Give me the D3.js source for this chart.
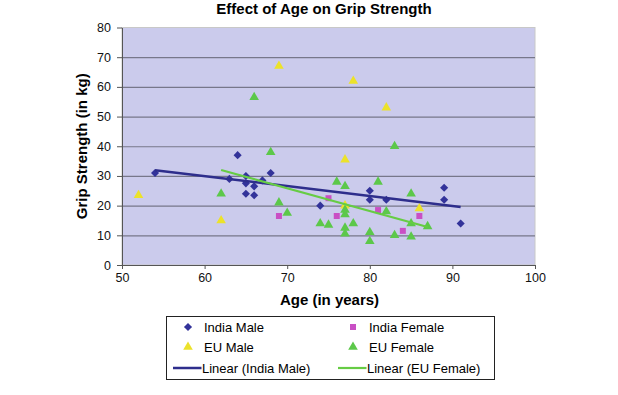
<!DOCTYPE html>
<html lang="en">
<head>
<meta charset="UTF-8">
<title>Effect of Age on Grip Strength</title>
<script src="https://d3js.org/d3.v7.min.js"></script>
<style>
  body { margin: 0; background: #fff; }
  svg { font-family: "Liberation Sans", Arial, Helvetica, sans-serif; }
</style>
</head>
<body>
<script>
// [age, grip strength in kg]
const indiaMale = [[54,31],[63,29],[64,37],[65,30],[65,27.5],[65,24],[66,26.5],[66,23.5],[67,28.5],[68,31],[74,20],[80,25],[80,22],[82,22],[89,26],[89,22],[91,14]];
const indiaFemale = [[69,16.5],[75,22.5],[76,16.5],[81,18.5],[84,11.5],[86,16.5]];
const euMale = [[52,23.5],[62,15],[69,67],[77,35.5],[77,20],[78,62],[82,53],[86,19]];
const euFemale = [[62,24],[66,56.5],[68,38],[69,21],[70,17.5],[74,14],[75,13.5],[76,28],[77,26.5],[77,18.5],[77,17],[77,12.5],[77,10.5],[78,14],[80,11],[80,8],[81,28],[82,18],[83,40],[83,10],[85,24],[85,14],[85,9.5],[87,13]];
const xTicks = [50,60,70,80,90,100];
const yTicks = [0,10,20,30,40,50,60,70,80];

const W = 618, H = 395;
const plotL = 122, plotR = 535, plotT = 27.5, plotB = 265;

const svg = d3.select("body").append("svg")
    .attr("width", W)
    .attr("height", H);

const x = d3.scaleLinear().domain([50, 100]).range([plotL, plotR]);
const y = d3.scaleLinear().domain([0, 80]).range([plotB, plotT]);

// plot background
svg.append("rect")
   .attr("x", plotL).attr("y", plotT)
   .attr("width", plotR - plotL).attr("height", plotB - plotT)
   .attr("fill", "#cbcbec")
   .attr("stroke", "#c8c8c8");

// gridlines
svg.append("g")
   .attr("transform", `translate(${plotL},0)`)
   .call(d3.axisLeft(y).tickValues(yTicks.slice(1, -1)).tickSize(-(plotR - plotL)).tickFormat(""))
   .call(g => g.select(".domain").remove())
   .call(g => g.selectAll("line").attr("stroke", "#77778a").attr("stroke-width", 1.2));

// y axis
svg.append("g")
   .attr("transform", `translate(${plotL},0)`)
   .call(d3.axisLeft(y).tickValues(yTicks).tickSize(5).tickPadding(6).tickSizeOuter(0))
   .call(g => g.selectAll("text").attr("font-size", 12.5).attr("fill", "#111"))
   .call(g => g.selectAll("line, .domain").attr("stroke", "#555"));

// x axis
svg.append("g")
   .attr("transform", `translate(0,${plotB})`)
   .call(d3.axisBottom(x).tickValues(xTicks).tickSize(4).tickPadding(4).tickSizeOuter(0))
   .call(g => g.selectAll("text").attr("font-size", 12.5).attr("fill", "#111"))
   .call(g => g.selectAll("line, .domain").attr("stroke", "#555"));

// titles
svg.append("text")
   .attr("x", 324).attr("y", 14)
   .attr("text-anchor", "middle")
   .attr("font-size", 15).attr("font-weight", "bold")
   .text("Effect of Age on Grip Strength");

svg.append("text")
   .attr("x", 329.5).attr("y", 305)
   .attr("text-anchor", "middle")
   .attr("font-size", 15).attr("font-weight", "bold")
   .text("Age (in years)");

svg.append("text")
   .attr("transform", `translate(87,${(plotT + plotB) / 2}) rotate(-90)`)
   .attr("text-anchor", "middle")
   .attr("font-size", 15).attr("font-weight", "bold")
   .text("Grip Strength (in kg)");

// marker shapes
const shapes = {
    diamond: d3.symbol().type(d3.symbolDiamond2).size(42),
    square: d3.symbol().type(d3.symbolSquare).size(36),
    triangle: d3.symbol().type(d3.symbolTriangle).size(40)
};

const series = [
    { name: "India Male", data: indiaMale, shape: "diamond", color: "#33339a" },
    { name: "India Female", data: indiaFemale, shape: "square", color: "#c94fc4" },
    { name: "EU Male", data: euMale, shape: "triangle", color: "#ece22a" },
    { name: "EU Female", data: euFemale, shape: "triangle", color: "#5cc84a" }
];

series.forEach(s => {
    svg.append("g").selectAll("path")
       .data(s.data)
       .enter().append("path")
       .attr("transform", d => `translate(${x(d[0])},${y(d[1])})`)
       .attr("d", shapes[s.shape]())
       .attr("fill", s.color);
});

// least squares trend lines
function fit(data) {
    const mx = d3.mean(data, d => d[0]), my = d3.mean(data, d => d[1]);
    const b = d3.sum(data, d => (d[0] - mx) * (d[1] - my)) / d3.sum(data, d => (d[0] - mx) ** 2);
    const a = my - b * mx;
    const [x0, x1] = d3.extent(data, d => d[0]);
    return [[x0, a + b * x0], [x1, a + b * x1]];
}

const trends = [
    { name: "Linear (India Male)", data: indiaMale, color: "#2e2e8c", width: 2.5 },
    { name: "Linear (EU Female)", data: euFemale, color: "#66cc44", width: 2.2 }
];

const line = d3.line().x(d => x(d[0])).y(d => y(d[1]));
trends.forEach(t => {
    svg.append("path")
       .attr("d", line(fit(t.data)))
       .attr("fill", "none")
       .attr("stroke", t.color)
       .attr("stroke-width", t.width);
});

// legend
const legend = svg.append("g");
legend.append("rect")
   .attr("x", 166.5).attr("y", 316.5)
   .attr("width", 328).attr("height", 63)
   .attr("fill", "#fff").attr("stroke", "#222");

const legendItems = [
    { text: "India Male", col: 0, row: 0, s: series[0] },
    { text: "India Female", col: 1, row: 0, s: series[1] },
    { text: "EU Male", col: 0, row: 1, s: series[2] },
    { text: "EU Female", col: 1, row: 1, s: series[3] },
    { text: trends[0].name, col: 0, row: 2, t: trends[0] },
    { text: trends[1].name, col: 1, row: 2, t: trends[1] }
];
const colX = [188, 353], rowY = [327, 347, 368];
const textX = [204, 369];

legendItems.forEach(it => {
    const cy = rowY[it.row];
    if (it.s) {
        legend.append("path")
           .attr("transform", `translate(${colX[it.col]},${cy})`)
           .attr("d", shapes[it.s.shape]())
           .attr("fill", it.s.color);
        legend.append("text")
           .attr("x", textX[it.col]).attr("y", cy + 5)
           .attr("font-size", 13)
           .text(it.text);
    } else {
        legend.append("line")
           .attr("x1", colX[it.col] - 15).attr("x2", colX[it.col] + 13.5)
           .attr("y1", cy).attr("y2", cy)
           .attr("stroke", it.t.color).attr("stroke-width", it.t.width);
        legend.append("text")
           .attr("x", textX[it.col] - 2).attr("y", cy + 5)
           .attr("font-size", 13)
           .text(it.text);
    }
});
</script>
</body>
</html>
